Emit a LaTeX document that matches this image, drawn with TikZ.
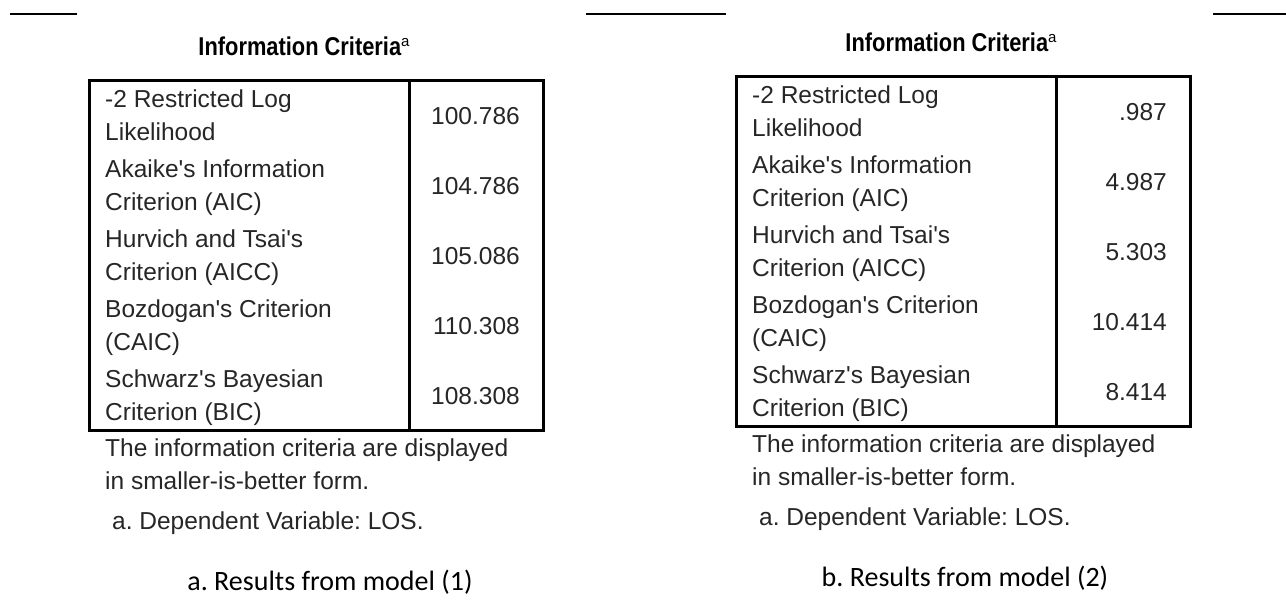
\documentclass[tikz,border=0pt]{standalone}
\usepackage{fontspec}
\setmainfont{Liberation Sans}[Ligatures=TeXOff]
\newfontfamily\capfont{Carlito}
\tikzset{
  toprule/.style={line width=2.5pt},
  tblframe/.style={line width=3pt},
  body/.style={font=\fontsize{24.5}{30}\selectfont, inner sep=0pt, text=black!85},
  titletxt/.style={font=\fontsize{23}{26}\selectfont\bfseries, inner sep=0pt},
  captxt/.style={font=\fontsize{28}{32}\capfont, inner sep=0pt},
}
% #1 prefix, #2..#6 values, #7 caption, #8 caption x
\newcommand\infopanel[8]{%
  \node[titletxt, anchor=base] (#1-title) at (304,55)
    {\scalebox{0.95}[1.12]{Information Criteria}\raisebox{9pt}{\fontsize{15}{15}\selectfont\mdseries a}};
  \draw[tblframe] (89,80) rectangle (543,430);
  \draw[tblframe] (409,80) -- (409,430);
  \node[body, anchor=base west] (#1-r1a) at (105,107) {-2 Restricted Log};
  \node[body, anchor=base west] (#1-r1b) at (105,140) {Likelihood};
  \node[body, anchor=base east] (#1-v1) at (520,124) {#2};
  \node[body, anchor=base west] (#1-r2a) at (105,177) {Akaike's Information};
  \node[body, anchor=base west] (#1-r2b) at (105,210) {Criterion (AIC)};
  \node[body, anchor=base east] (#1-v2) at (520,194) {#3};
  \node[body, anchor=base west] (#1-r3a) at (105,247) {Hurvich and Tsai's};
  \node[body, anchor=base west] (#1-r3b) at (105,280) {Criterion (AICC)};
  \node[body, anchor=base east] (#1-v3) at (520,264) {#4};
  \node[body, anchor=base west] (#1-r4a) at (105,317) {Bozdogan's Criterion};
  \node[body, anchor=base west] (#1-r4b) at (105,350) {(CAIC)};
  \node[body, anchor=base east] (#1-v4) at (520,334) {#5};
  \node[body, anchor=base west] (#1-r5a) at (105,387) {Schwarz's Bayesian};
  \node[body, anchor=base west] (#1-r5b) at (105,420) {Criterion (BIC)};
  \node[body, anchor=base east] (#1-v5) at (520,404) {#6};
  \node[body, anchor=base west] (#1-f1) at (105,456) {The information criteria are displayed};
  \node[body, anchor=base west] (#1-f2) at (105,489) {in smaller-is-better form.};
  \node[body, anchor=base west] (#1-dv) at (112,529) {a. Dependent Variable: LOS.};
  \node[captxt, anchor=base] (#1-cap) at (#8,590) {#7};
}
\begin{document}
\frenchspacing
\begin{tikzpicture}[x=1pt,y=-1pt]
  \useasboundingbox (0,0) rectangle (1286,608);
  \draw[toprule] (10,14) -- (77,14);
  \draw[toprule] (586,14) -- (726,14);
  \draw[toprule] (1213,14) -- (1286,14);
  \begin{scope}
    \infopanel{L}{100.786}{104.786}{105.086}{110.308}{108.308}{a. Results from model (1)}{330}
  \end{scope}
  \begin{scope}[shift={(647,-4)}]
    \infopanel{R}{.987}{4.987}{5.303}{10.414}{8.414}{b. Results from model (2)}{318}
  \end{scope}
\end{tikzpicture}
\end{document}
